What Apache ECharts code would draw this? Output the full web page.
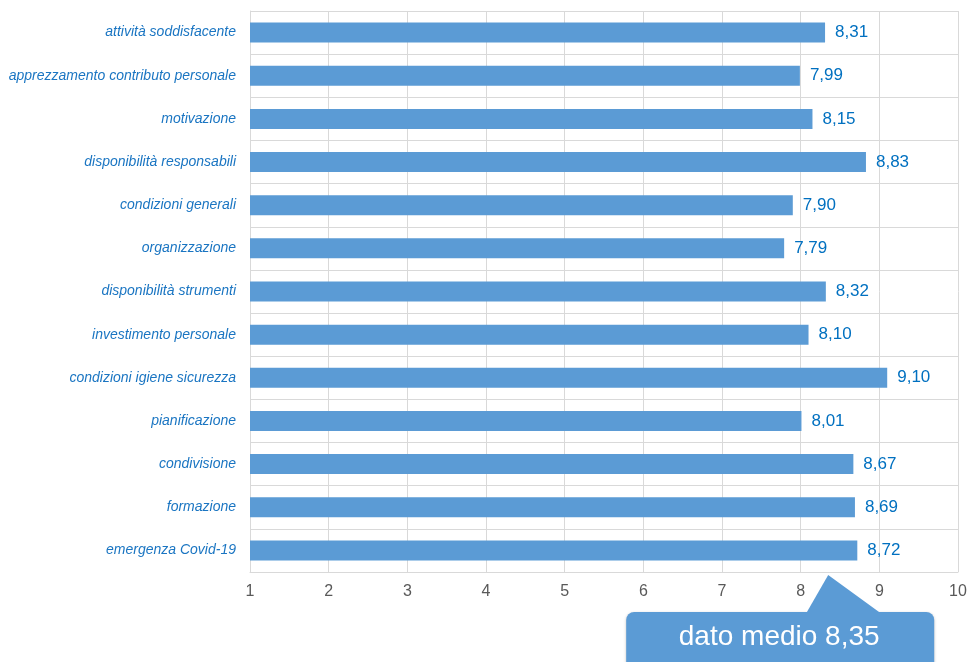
<!DOCTYPE html>
<html>
<head>
<meta charset="utf-8">
<script src="https://cdn.jsdelivr.net/npm/echarts@6/dist/echarts.min.js"></script>
<style>html,body{margin:0;padding:0;background:#fff}#c{width:970px;height:662px}</style>
</head>
<body>
<div id="c"></div>
<script>
var categories = ['attività soddisfacente','apprezzamento contributo personale','motivazione','disponibilità responsabili','condizioni generali','organizzazione','disponibilità strumenti','investimento personale','condizioni igiene sicurezza','pianificazione','condivisione','formazione','emergenza Covid-19'];
var values = [8.31, 7.99, 8.15, 8.83, 7.90, 7.79, 8.32, 8.10, 9.10, 8.01, 8.67, 8.69, 8.72];
var meanValue = 8.35;
var meanLabel = 'dato medio 8,35';

var chart = echarts.init(document.getElementById('c'));
var option = {
  animation: false,
  grid: {left: 250, right: 12, top: 11, bottom: 90},
  xAxis: {
    type: 'value', min: 1, max: 10, interval: 1,
    axisLine: {show: true, lineStyle: {color: '#d9d9d9', width: 1}},
    axisTick: {show: false},
    axisLabel: {color: '#595959', fontSize: 16, fontFamily: 'Liberation Sans', margin: 12},
    splitLine: {show: true, lineStyle: {color: '#d9d9d9', width: 1}}
  },
  yAxis: {
    type: 'category', data: categories, inverse: true,
    axisLine: {show: true, lineStyle: {color: '#d9d9d9'}},
    axisTick: {show: false},
    axisLabel: {color: '#1a75c2', fontSize: 14, fontStyle: 'italic', fontFamily: 'Liberation Sans', margin: 14},
    splitLine: {show: true, interval: 0, lineStyle: {color: '#d9d9d9', width: 1}}
  },
  series: [{
    type: 'bar', data: values, barWidth: 20,
    itemStyle: {color: '#5b9bd5'},
    label: {show: true, position: 'right', distance: 10, color: '#0070c0', fontSize: 17, fontFamily: 'Liberation Sans',
      formatter: function(p){ return p.value.toFixed(2).replace('.', ','); }}
  }]
};
chart.setOption(option);

var tipX = chart.convertToPixel({xAxisIndex: 0}, meanValue);
var tipY = 575;
chart.setOption({
  graphic: [
    {type: 'polygon', shape: {points: [[tipX, tipY], [tipX - 23, tipY + 40], [tipX + 55, tipY + 40]]}, style: {fill: '#5b9bd5'}, z: 100},
    {type: 'rect', shape: {x: tipX - 202, y: tipY + 37, width: 308, height: 70, r: 8}, style: {fill: '#5b9bd5', shadowBlur: 3, shadowColor: 'rgba(0,0,0,0.25)', shadowOffsetY: 1}, z: 99},
    {type: 'text', x: tipX - 49, y: tipY + 62, style: {text: meanLabel, fill: '#ffffff', fontSize: 28, fontFamily: 'Liberation Sans', align: 'center', verticalAlign: 'middle'}, z: 101}
  ]
});
</script>
</body>
</html>
